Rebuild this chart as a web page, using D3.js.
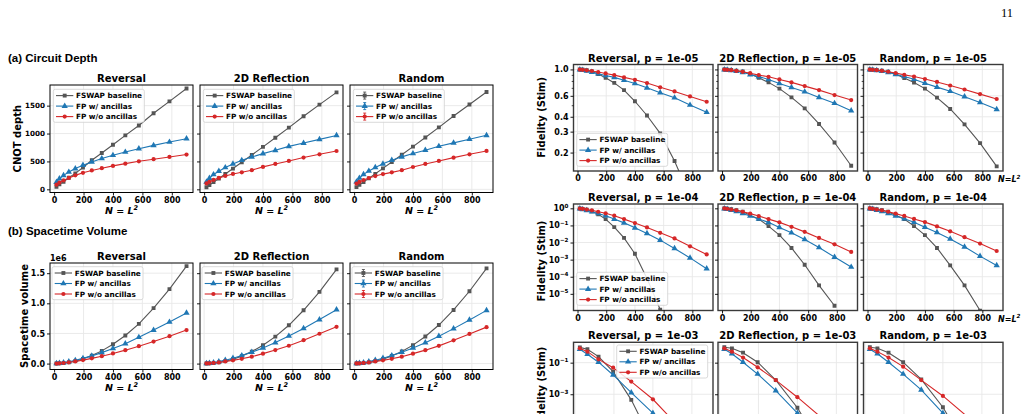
<!DOCTYPE html>
<html>
<head>
<meta charset="utf-8">
<script src="https://cdnjs.cloudflare.com/ajax/libs/d3/7.8.5/d3.min.js"></script>
<style>
  body { margin: 0; background: #fff; }
  svg { display: block; }
  text { font-family: "DejaVu Sans", sans-serif; font-weight: bold; }
</style>
</head>
<body>
<div id="fig"></div>
<script>
// ---- data ----
const seriesNames = ['FSWAP baseline', 'FP w/ ancillas', 'FP w/o ancillas'];
const layoutNames = ['Reversal', '2D Reflection', 'Random'];
const nSizes = [16, 36, 64, 100, 144, 196, 256, 324, 400, 484, 576, 676, 784, 900];
const nSizesP3 = [25, 64, 121, 196, 289, 400, 529, 676];
const pLabels = ['1e-05', '1e-04', '1e-03'];

// (a) CNOT depth
const depthRevFswap = [46, 89, 135, 207, 285, 391, 521, 651, 800, 966, 1144, 1363, 1577, 1808];
const depthRevAnc   = [128, 190, 250, 310, 372, 432, 491, 552, 610, 669, 728, 788, 848, 907];
const depthRevNo    = [84, 120, 160, 205, 250, 296, 338, 379, 420, 460, 502, 540, 580, 623];
const depthRefFswap = [38, 78, 128, 195, 275, 372, 486, 615, 760, 925, 1105, 1310, 1518, 1737];
const depthRefAnc   = [132, 200, 265, 325, 391, 455, 521, 580, 640, 699, 770, 829, 895, 966];
const depthRefNo    = [105, 135, 168, 205, 240, 275, 305, 343, 402, 455, 509, 569, 628, 687];
const depthRndFswap = [40, 80, 130, 197, 278, 375, 490, 620, 765, 930, 1110, 1315, 1520, 1745];
const depthRndAnc   = [135, 202, 268, 328, 393, 457, 522, 582, 642, 702, 772, 832, 898, 968];
const depthRndNo    = [103, 133, 166, 203, 238, 273, 304, 343, 400, 455, 508, 568, 628, 688];

// (b) spacetime volume, units of 1e6
const volRevFswap = [0.001, 0.003, 0.009, 0.021, 0.041, 0.077, 0.133, 0.211, 0.32, 0.467, 0.659, 0.921, 1.236, 1.618];
const volRevAnc   = [0.002, 0.007, 0.017, 0.032, 0.055, 0.087, 0.128, 0.182, 0.25, 0.33, 0.436, 0.556, 0.69, 0.84];
const volRevNo    = [0.001, 0.004, 0.010, 0.021, 0.036, 0.058, 0.087, 0.123, 0.168, 0.223, 0.289, 0.365, 0.455, 0.556];
const volRefFswap = [0.001, 0.003, 0.008, 0.02, 0.04, 0.073, 0.124, 0.199, 0.304, 0.448, 0.636, 0.885, 1.19, 1.564];
const volRefAnc   = [0.002, 0.007, 0.017, 0.033, 0.057, 0.09, 0.134, 0.19, 0.26, 0.348, 0.457, 0.583, 0.73, 0.894];
const volRefNo    = [0.002, 0.005, 0.011, 0.02, 0.035, 0.054, 0.08, 0.115, 0.165, 0.224, 0.296, 0.388, 0.495, 0.61];
const volRndFswap = [0.001, 0.003, 0.008, 0.02, 0.04, 0.074, 0.126, 0.201, 0.306, 0.45, 0.64, 0.89, 1.2, 1.58];
const volRndAnc   = [0.002, 0.007, 0.017, 0.033, 0.057, 0.09, 0.134, 0.19, 0.259, 0.346, 0.455, 0.58, 0.725, 0.883];
const volRndNo    = [0.002, 0.005, 0.011, 0.02, 0.035, 0.054, 0.08, 0.115, 0.165, 0.223, 0.294, 0.386, 0.492, 0.605];

// fidelity, p = 1e-05
const fid5RevFswap = [0.998, 0.993, 0.983, 0.962, 0.915, 0.85, 0.77, 0.67, 0.54, 0.41, 0.29, 0.17, 0.085, 0.035];
const fid5RevAnc   = [0.995, 0.985, 0.97, 0.948, 0.92, 0.888, 0.857, 0.81, 0.763, 0.70, 0.637, 0.578, 0.502, 0.436];
const fid5RevNo    = [0.997, 0.992, 0.982, 0.97, 0.95, 0.925, 0.896, 0.857, 0.818, 0.768, 0.707, 0.653, 0.593, 0.535];
const fid5RefFswap = [0.998, 0.995, 0.99, 0.978, 0.96, 0.915, 0.85, 0.778, 0.69, 0.582, 0.471, 0.348, 0.243, 0.155];
const fid5RefAnc   = [0.996, 0.99, 0.98, 0.965, 0.945, 0.905, 0.87, 0.824, 0.763, 0.706, 0.649, 0.582, 0.519, 0.45];
const fid5RefNo    = [0.997, 0.993, 0.985, 0.972, 0.955, 0.93, 0.896, 0.867, 0.824, 0.778, 0.724, 0.67, 0.609, 0.553];
const fid5RndFswap = [0.998, 0.995, 0.99, 0.978, 0.958, 0.913, 0.848, 0.775, 0.69, 0.58, 0.465, 0.345, 0.24, 0.153];
const fid5RndAnc   = [0.996, 0.99, 0.98, 0.965, 0.945, 0.906, 0.871, 0.826, 0.766, 0.71, 0.655, 0.59, 0.528, 0.462];
const fid5RndNo    = [0.997, 0.993, 0.985, 0.973, 0.956, 0.932, 0.9, 0.871, 0.83, 0.785, 0.732, 0.678, 0.62, 0.564];

// fidelity, p = 1e-04
const fid4RevFswap = [0.97, 0.92, 0.83, 0.66, 0.45, 0.235, 0.08, 0.0187, 2.2e-3, 8e-5, 1.2e-6, 2e-8, 1e-10, 1e-13];
const fid4RevAnc   = [0.95, 0.87, 0.76, 0.63, 0.5, 0.37, 0.235, 0.141, 0.072, 0.034, 0.0138, 4.5e-3, 1.26e-3, 2.95e-4];
const fid4RevNo    = [0.97, 0.93, 0.85, 0.76, 0.63, 0.51, 0.37, 0.234, 0.138, 0.076, 0.037, 0.0174, 6.0e-3, 2.0e-3];
const fid4RefFswap = [0.98, 0.95, 0.89, 0.79, 0.63, 0.4, 0.235, 0.091, 0.027, 4.8e-3, 5.0e-4, 3.1e-5, 2.0e-6, null];
const fid4RefAnc   = [0.95, 0.89, 0.79, 0.66, 0.5, 0.355, 0.24, 0.151, 0.076, 0.037, 0.0151, 5.1e-3, 1.41e-3, 3.7e-4];
const fid4RefNo    = [0.98, 0.93, 0.85, 0.76, 0.63, 0.49, 0.355, 0.234, 0.151, 0.083, 0.042, 0.0186, 7.9e-3, 2.8e-3];
const fid4RndFswap = [0.98, 0.95, 0.89, 0.79, 0.63, 0.4, 0.235, 0.091, 0.027, 4.8e-3, 4.6e-4, 3.1e-5, 1.05e-6, 1e-8];
const fid4RndAnc   = [0.95, 0.89, 0.79, 0.66, 0.5, 0.36, 0.245, 0.155, 0.079, 0.039, 0.0162, 5.6e-3, 1.6e-3, 4.6e-4];
const fid4RndNo    = [0.98, 0.93, 0.85, 0.76, 0.63, 0.49, 0.36, 0.24, 0.156, 0.088, 0.045, 0.0204, 8.7e-3, 3.2e-3];

// fidelity, p = 1e-03 (fewer sizes)
const fid3RevFswap = [0.93, 0.71, 0.24, 0.027, 4.4e-4, 8e-7, 1e-10, 1e-15];
const fid3RevAnc   = [0.71, 0.34, 0.107, 0.0166, 1.26e-3, 6.3e-5, 1.6e-6, 1.6e-8];
const fid3RevNo    = [0.81, 0.5, 0.162, 0.048, 6.3e-3, 4.8e-4, 1e-5, 1.6e-7];
const fid3RefFswap = [0.95, 0.81, 0.43, 0.107, 7.9e-3, 1.4e-4, 3e-7, 1e-9];
const fid3RefAnc   = [0.71, 0.37, 0.107, 0.019, 1.7e-3, 6.3e-5, 1.3e-6, 1e-8];
const fid3RefNo    = [0.81, 0.5, 0.21, 0.051, 7.9e-3, 6.5e-4, 2.9e-5, 6.3e-7];
const fid3RndFswap = [0.95, 0.81, 0.43, 0.107, 8.7e-3, 1.5e-4, 3e-7, 1e-9];
const fid3RndAnc   = [0.71, 0.37, 0.107, 0.019, 1.9e-3, 6.3e-5, 1.3e-6, 1e-8];
const fid3RndNo    = [0.81, 0.5, 0.21, 0.056, 7.9e-3, 7.8e-4, 3.5e-5, 8e-7];

const xTickVals = [0, 200, 400, 600, 800];
const depthTicks = [0, 500, 1000, 1500];
const volTicks = [0, 0.5, 1.0, 1.5];
const fid5Ticks = [1.0, 0.6, 0.4, 0.3, 0.2];
const fid5Minor = [0.9, 0.8, 0.7, 0.5];
const fid4Ticks = [1, 1e-1, 1e-2, 1e-3, 1e-4, 1e-5];
const fid3Ticks = [1e-1, 1e-3];

// ---- drawing ----
const colors = ['#555555', '#1f77b4', '#d62728'];
const shapes = [d3.symbolSquare, d3.symbolTriangle, d3.symbolCircle];
const symSize = [15, 17, 14];

const svg = d3.select('#fig').append('svg')
  .attr('width', 1027).attr('height', 414)
  .style('overflow', 'hidden');

let clipCount = 0;

function drawLegend(g, lx, ly, errbar) {
  const lg = g.append('g').attr('transform', `translate(${lx},${ly})`);
  lg.append('rect').attr('width', 91).attr('height', 33).attr('rx', 2)
    .attr('fill', '#fff').attr('fill-opacity', 0.85)
    .attr('stroke', '#d0d0d0').attr('stroke-width', 0.8);
  seriesNames.forEach((name, i) => {
    const yy = 6.3 + i * 10.5;
    lg.append('line').attr('x1', 2.7).attr('x2', 20).attr('y1', yy).attr('y2', yy)
      .attr('stroke', colors[i]).attr('stroke-width', 1.1);
    if (errbar) {
      lg.append('path').attr('d', `M9.9,${yy - 3.5}h3M11.4,${yy - 3.5}v7M9.9,${yy + 3.5}h3`)
        .attr('stroke', colors[i]).attr('stroke-width', 0.9).attr('fill', 'none');
    }
    lg.append('path').attr('transform', `translate(11.4,${yy})`)
      .attr('d', d3.symbol().type(shapes[i]).size(symSize[i])()).attr('fill', colors[i]);
    lg.append('text').attr('x', 22.7).attr('y', yy).attr('dy', '0.35em')
      .attr('font-size', 7.3).attr('fill', '#000').text(name);
  });
}

function supText(sel, base, expo) {
  sel.text(null);
  sel.append('tspan').text(base);
  sel.append('tspan').attr('dy', -3.8).attr('font-size', 5.6).text(expo);
}

function drawPanel(o) {
  const g = svg.append('g').attr('transform', `translate(${o.left},${o.top})`);
  const x = o.x.copy().range([0, o.w]);
  const y = o.y.copy().range([o.h, 0]);

  // grid
  g.append('g').selectAll('line').data(o.xTicks).join('line')
    .attr('x1', d => x(d)).attr('x2', d => x(d)).attr('y1', 0).attr('y2', o.h)
    .attr('stroke', '#e8e8e8').attr('stroke-width', 0.9);
  g.append('g').selectAll('line').data(o.yTicks).join('line')
    .attr('x1', 0).attr('x2', o.w).attr('y1', d => y(d)).attr('y2', d => y(d))
    .attr('stroke', '#e8e8e8').attr('stroke-width', 0.9);

  // data
  const cid = 'clip' + (clipCount++);
  g.append('clipPath').attr('id', cid).append('rect').attr('width', o.w).attr('height', o.h);
  const plot = g.append('g').attr('clip-path', `url(#${cid})`);
  o.series.forEach((vals, i) => {
    const pts = o.n.map((n, j) => [n, vals[j]]).filter(p => p[1] != null);
    plot.append('path').datum(pts)
      .attr('d', d3.line().x(p => x(p[0])).y(p => y(p[1])))
      .attr('fill', 'none').attr('stroke', colors[i]).attr('stroke-width', 1.1);
    plot.append('g').selectAll('path').data(pts).join('path')
      .attr('transform', p => `translate(${x(p[0])},${y(p[1])})`)
      .attr('d', d3.symbol().type(shapes[i]).size(symSize[i]))
      .attr('fill', colors[i]);
  });

  // frame
  g.append('rect').attr('width', o.w).attr('height', o.h)
    .attr('fill', 'none').attr('stroke', o.frame || '#000').attr('stroke-width', o.frameW || 1);

  // axes
  const ax = g.append('g').attr('transform', `translate(0,${o.h})`)
    .call(d3.axisBottom(x).tickValues(o.xTicks).tickSize(3).tickPadding(1.5));
  const ay = g.append('g')
    .call(d3.axisLeft(y).tickValues(o.yTicks).tickSize(3).tickPadding(2)
      .tickFormat(o.showY ? o.yFmt : () => ''));
  if (o.yMinor) {
    const am = g.append('g').call(d3.axisLeft(y).tickValues(o.yMinor).tickSize(1.8).tickFormat(() => ''));
    am.select('.domain').remove();
    am.selectAll('line').attr('stroke', '#000').attr('stroke-width', 0.7);
  }
  [ax, ay].forEach(a => {
    a.select('.domain').remove();
    a.attr('font-family', null).attr('font-size', 8);
    a.selectAll('line').attr('stroke', '#000').attr('stroke-width', 0.9);
    a.selectAll('text').attr('fill', '#000');
  });
  if (o.yFont) ay.attr('font-size', o.yFont);
  if (!o.showX) ax.selectAll('text').remove();
  if (!o.showY) ay.selectAll('text').remove();
  if (o.showY && o.supY) {
    ay.selectAll('text').each(function (d) {
      const e = Math.round(Math.log10(d));
      supText(d3.select(this), '10', (e < 0 ? '\u2212' : '') + Math.abs(e));
    });
  }

  // title
  g.append('text').attr('x', o.w / 2).attr('y', -3).attr('text-anchor', 'middle')
    .attr('font-size', 10).attr('fill', '#000').text(o.title);

  // x label
  if (o.xLabel === 'center') {
    const t = g.append('text').attr('x', o.w / 2).attr('y', o.h + 21)
      .attr('text-anchor', 'middle').attr('font-size', 9.5).attr('font-style', 'italic');
    t.append('tspan').text('N = L');
    t.append('tspan').attr('dy', -4).attr('font-size', 6.5).text('2');
  } else if (o.xLabel === 'side') {
    const t = g.append('text').attr('x', o.w - 5).attr('y', o.h + 11)
      .attr('font-size', 8).attr('font-style', 'italic');
    t.append('tspan').text('N=L');
    t.append('tspan').attr('dy', -3.5).attr('font-size', 5.6).text('2');
  }

  if (o.legend) drawLegend(g, o.legend[0], o.legend[1], o.errbar);
  return g;
}

function yLabel(text, cx, cy) {
  svg.append('text').attr('transform', `translate(${cx},${cy}) rotate(-90)`)
    .attr('text-anchor', 'middle').attr('font-size', 10).attr('fill', '#000').text(text);
}

// ---- left figure: (a) depth, (b) volume ----
const xLeft = d3.scaleLinear().domain([-28, 944]);
const leftCols = [50, 200, 350];
const depthSets = [[depthRevFswap, depthRevAnc, depthRevNo], [depthRefFswap, depthRefAnc, depthRefNo], [depthRndFswap, depthRndAnc, depthRndNo]];
const volSets = [[volRevFswap, volRevAnc, volRevNo], [volRefFswap, volRefAnc, volRefNo], [volRndFswap, volRndAnc, volRndNo]];

svg.append('text').attr('x', 8).attr('y', 61.5).attr('font-size', 11.5)
  .style('font-family', '"Liberation Sans", Arial, sans-serif').text('(a) Circuit Depth');
svg.append('text').attr('x', 8).attr('y', 234.5).attr('font-size', 11.5)
  .style('font-family', '"Liberation Sans", Arial, sans-serif').text('(b) Spacetime Volume');

layoutNames.forEach((name, c) => {
  drawPanel({
    left: leftCols[c], top: 85, w: 143, h: 107.5,
    x: xLeft, y: d3.scaleLinear().domain([-57, 1870]),
    n: nSizes, series: depthSets[c], title: name,
    xTicks: xTickVals, yTicks: depthTicks, showX: true, showY: c === 0, yFmt: d3.format('d'), yFont: 7.2,
    xLabel: 'center', legend: [3.3, 4.3], errbar: c === 2
  });
  drawPanel({
    left: leftCols[c], top: 263, w: 143, h: 106.5,
    x: xLeft, y: d3.scaleLinear().domain([-0.098, 1.669]),
    n: nSizes, series: volSets[c], title: name,
    xTicks: xTickVals, yTicks: volTicks, showX: true, showY: c === 0, yFmt: d3.format('.1f'),
    xLabel: 'center', legend: [2, 3.7], errbar: c === 2
  });
});
yLabel('CNOT depth', 20.5, 138.7);
yLabel('Spacetime volume', 27.5, 316);
svg.append('text').attr('x', 50).attr('y', 261).attr('font-size', 8).text('1e6');

// ---- right figure: fidelity ----
const rightCols = [573.5, 718, 863.5];
const rowTops = [64.5, 204, 342.3];
const rowLabelY = [117.3, 261, 387];
const fidSets = [
  [[fid5RevFswap, fid5RevAnc, fid5RevNo], [fid5RefFswap, fid5RefAnc, fid5RefNo], [fid5RndFswap, fid5RndAnc, fid5RndNo]],
  [[fid4RevFswap, fid4RevAnc, fid4RevNo], [fid4RefFswap, fid4RefAnc, fid4RefNo], [fid4RndFswap, fid4RndAnc, fid4RndNo]],
  [[fid3RevFswap, fid3RevAnc, fid3RevNo], [fid3RefFswap, fid3RefAnc, fid3RefNo], [fid3RndFswap, fid3RndAnc, fid3RndNo]]
];
const rowY = [
  d3.scaleLog().domain([0.14, 1.1]),
  d3.scaleLog().domain([1.06e-6, 1.79]),
  d3.scaleLog().domain([3.5e-7, 1.95])
];
const rowX = [
  d3.scaleLinear().domain([-28, 944]),
  d3.scaleLinear().domain([-28, 944]),
  d3.scaleLinear().domain([-7.5, 708.5])
];
const rowYTicks = [fid5Ticks, fid4Ticks, fid3Ticks];
const rowLegend = [[3.2, 68.8], [3.2, 68.3], [43.2, 2.7]];

pLabels.forEach((p, r) => {
  layoutNames.forEach((name, c) => {
    drawPanel({
      left: rightCols[c], top: rowTops[r], w: 139.5, h: 106.5,
      x: rowX[r], y: rowY[r],
      n: r === 2 ? nSizesP3 : nSizes, series: fidSets[r][c],
      title: `${name}, p = ${p}`,
      xTicks: r === 2 ? [0, 200, 400, 600] : xTickVals,
      yTicks: rowYTicks[r], yMinor: r === 0 ? fid5Minor : null,
      showX: r < 2, showY: c === 0, supY: r > 0, yFmt: d3.format('.1f'),
      frame: '#3a3a3a', frameW: 1.4,
      xLabel: (c === 2 && r < 2) ? 'side' : null,
      legend: c === 0 ? rowLegend[r] : null
    });
  });
  yLabel('Fidelity (Stim)', 544.5, rowLabelY[r]);
});

// page number
svg.append('text').attr('x', 1013).attr('y', 17).attr('text-anchor', 'end')
  .attr('font-size', 12.5).style('font-family', '"Liberation Serif", serif').style('font-weight', 'normal')
  .text('11');
</script>
</body>
</html>
